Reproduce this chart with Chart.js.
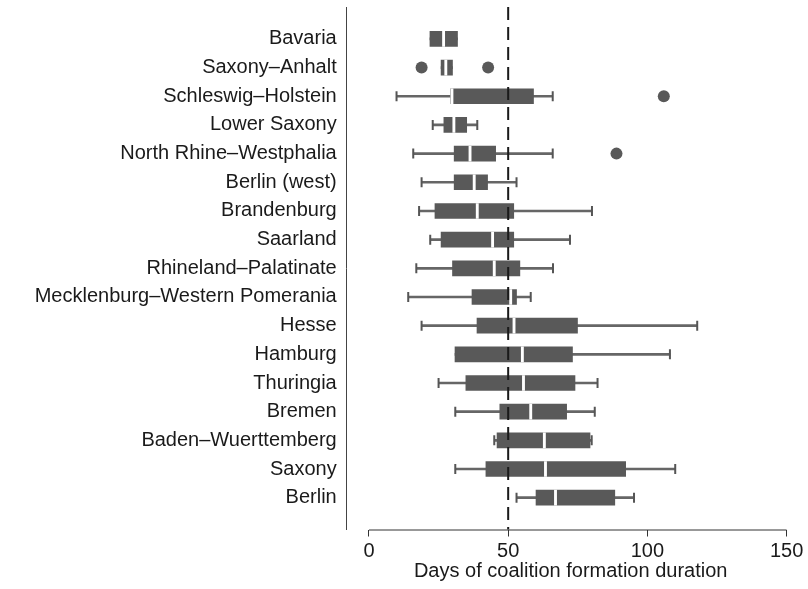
<!DOCTYPE html>
<html>
<head>
<meta charset="utf-8">
<script src="https://cdn.jsdelivr.net/npm/chart.js@4"></script>
<style>
  html, body { margin: 0; padding: 0; background: #fff; }
  #wrap { width: 808px; height: 589px; }
</style>
</head>
<body>
<div id="wrap"><canvas id="boxChart" width="808" height="589"></canvas></div>
<script>
// states, top to bottom
const states = ['Bavaria', 'Saxony–Anhalt', 'Schleswig–Holstein', 'Lower Saxony',
  'North Rhine–Westphalia', 'Berlin (west)', 'Brandenburg', 'Saarland',
  'Rhineland–Palatinate', 'Mecklenburg–Western Pomerania', 'Hesse', 'Hamburg',
  'Thuringia', 'Bremen', 'Baden–Wuerttemberg', 'Saxony', 'Berlin'];

// five-number summaries (days)
const whiskerLow = [21.9, 25.9, 9.9, 22.9, 15.9, 18.9, 18.0, 22.0, 17.0, 14.1, 18.9, 30.9, 25.0, 31.0, 45.0, 31.0, 53.0];
const q1 = [21.9, 25.9, 29.3, 26.9, 30.6, 30.6, 23.7, 25.9, 30.0, 37.0, 38.8, 30.9, 34.8, 47.0, 46.0, 42.0, 60.0];
const median = [26.8, 27.6, 29.8, 30.5, 36.3, 37.8, 38.9, 44.4, 45.0, 50.9, 52.1, 55.1, 55.5, 58.1, 63.0, 63.4, 67.0];
const q3 = [31.8, 30.0, 59.1, 35.1, 45.5, 42.6, 52.0, 52.0, 54.2, 53.0, 74.9, 73.1, 74.0, 71.0, 79.4, 92.2, 88.3];
const whiskerHigh = [31.8, 30.0, 66.0, 38.9, 66.0, 53.0, 80.1, 72.2, 66.1, 58.1, 117.9, 108.1, 82.1, 81.1, 80.0, 110.0, 95.2];

// outliers: [state index, days]
const outliers = [[1, 18.9], [1, 42.8], [2, 105.9], [4, 88.9]];

const xTicks = [0, 50, 100, 150];
const refLine = 50;

const boxColor = '#595959';
const fontFamily = '"Liberation Sans", Arial, Helvetica, sans-serif';

// caps only where the whisker sticks out of the box
const caps = [];
states.forEach((s, i) => {
  if (whiskerLow[i] < q1[i]) caps.push({ x: whiskerLow[i], y: i });
  if (whiskerHigh[i] > q3[i]) caps.push({ x: whiskerHigh[i], y: i });
});

// bottom axis line (R style, only from first to last tick) + dashed reference line
const rAxes = {
  id: 'rAxes',
  afterDatasetsDraw(chart) {
    const ctx = chart.ctx;
    const xs = chart.scales.x;
    const area = chart.chartArea;
    ctx.save();
    // reference line at 50 days
    const rx = xs.getPixelForValue(refLine);
    ctx.strokeStyle = '#1a1a1a';
    ctx.lineWidth = 2;
    ctx.setLineDash([13, 7]);
    ctx.beginPath();
    ctx.moveTo(rx, area.top);
    ctx.lineTo(rx, area.bottom);
    ctx.stroke();
    // axis line
    ctx.setLineDash([]);
    ctx.lineWidth = 1;
    ctx.strokeStyle = '#333';
    ctx.beginPath();
    ctx.moveTo(xs.getPixelForValue(xTicks[0]), area.bottom + 0.5);
    ctx.lineTo(xs.getPixelForValue(xTicks[xTicks.length - 1]), area.bottom + 0.5);
    ctx.stroke();
    ctx.restore();
  }
};

new Chart(document.getElementById('boxChart'), {
  type: 'bar',
  data: {
    datasets: [
      {
        type: 'bar',
        label: 'Median',
        grouped: false,
        order: 0,
        data: states.map((s, i) => ({ x: [median[i] - 0.4, median[i] + 0.4], y: i })),
        backgroundColor: '#ffffff',
        barThickness: 15
      },
      {
        type: 'scatter',
        label: 'Outliers',
        order: 0,
        data: outliers.map(o => ({ x: o[1], y: o[0] })),
        pointRadius: 6,
        pointBackgroundColor: boxColor,
        pointBorderWidth: 0
      },
      {
        type: 'bar',
        label: 'IQR',
        grouped: false,
        order: 1,
        data: states.map((s, i) => ({ x: [q1[i], q3[i]], y: i })),
        backgroundColor: boxColor,
        barThickness: 15
      },
      {
        type: 'scatter',
        label: 'Caps',
        order: 2,
        data: caps,
        pointStyle: 'line',
        rotation: 90,
        pointRadius: 5,
        pointBorderWidth: 2,
        pointBorderColor: '#555'
      },
      {
        type: 'bar',
        label: 'Whiskers',
        grouped: false,
        order: 3,
        data: states.map((s, i) => ({ x: [whiskerLow[i], whiskerHigh[i]], y: i })),
        backgroundColor: '#666',
        barThickness: 2
      }
    ]
  },
  options: {
    indexAxis: 'y',
    responsive: false,
    animation: false,
    layout: { padding: { top: 7, right: 13, bottom: 8, left: 24.7 } },
    plugins: {
      legend: { display: false },
      tooltip: { enabled: false }
    },
    scales: {
      x: {
        type: 'linear',
        position: 'bottom',
        offset: false,
        min: -8,
        max: 152.9,
        afterBuildTicks: scale => { scale.ticks = xTicks.map(v => ({ value: v })); },
        grid: { offset: false, drawOnChartArea: false, drawTicks: true, tickLength: 7, color: '#333' },
        border: { display: false },
        ticks: { font: { family: fontFamily, size: 20, lineHeight: 1 }, color: '#1a1a1a', padding: 4.5, maxRotation: 0 },
        title: {
          display: true,
          text: 'Days of coalition formation duration',
          font: { family: fontFamily, size: 20, lineHeight: 1 },
          color: '#1a1a1a',
          padding: { top: -4.5, bottom: 0 }
        }
      },
      y: {
        type: 'linear',
        position: 'left',
        offset: false,
        reverse: true,
        min: -1.114,
        max: 17.11,
        afterBuildTicks: scale => { scale.ticks = states.map((s, i) => ({ value: i })); },
        afterFit: scale => { scale.paddingTop = 0; scale.paddingBottom = 0; },
        grid: { display: false, offset: false, drawTicks: false },
        border: { display: true, color: '#444', width: 1 },
        ticks: {
          font: { family: fontFamily, size: 20 },
          color: '#1a1a1a',
          padding: 10,
          callback: v => states[v]
        }
      }
    }
  },
  plugins: [rAxes]
});
</script>
</body>
</html>
